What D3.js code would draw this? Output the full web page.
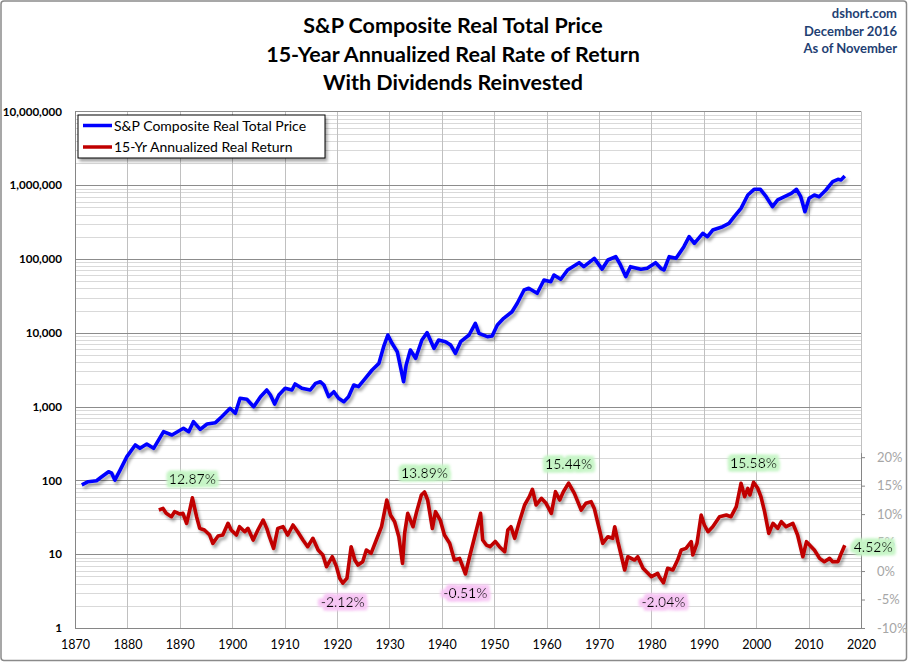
<!DOCTYPE html>
<html>
<head>
<meta charset="utf-8">
<script src="https://cdn.jsdelivr.net/npm/d3@7"></script>
<style>
  body { margin: 0; background: #fff; }
  svg { display: block; font-family: Lato, "Open Sans", sans-serif; }
</style>
</head>
<body>
<script>
// S&P Composite real total price (log scale, left axis)
const priceYears = [1871.3,1872.5,1874.1,1875.1,1876.4,1877.0,1877.6,1878.6,1879.9,1881.5,1882.4,1883.7,1885.0,1886.9,1888.5,1890.7,1891.7,1892.6,1893.9,1895.2,1896.8,1898.0,1899.6,1900.6,1901.5,1902.8,1904.1,1905.4,1906.6,1907.3,1908.1,1908.9,1910.1,1911.4,1912.0,1913.3,1914.9,1915.9,1916.8,1917.5,1918.4,1919.4,1920.3,1921.3,1922.2,1923.2,1924.1,1925.4,1926.7,1928.0,1928.9,1929.7,1930.5,1931.5,1932.1,1932.7,1933.2,1934.0,1935.0,1936.2,1937.2,1938.5,1939.4,1940.7,1941.7,1942.6,1943.6,1945.2,1946.4,1947.1,1948.7,1949.6,1950.6,1951.8,1953.4,1954.4,1955.7,1956.6,1958.2,1959.5,1960.8,1961.4,1962.7,1964.0,1966.2,1967.1,1969.1,1970.6,1971.7,1973.2,1974.1,1975.1,1976.0,1978.0,1979.2,1980.8,1981.8,1982.4,1983.4,1984.7,1986.2,1987.2,1988.2,1989.8,1990.7,1991.7,1993.6,1994.8,1995.8,1997.1,1998.4,1999.6,2000.8,2001.9,2003.1,2004.1,2005.4,2006.7,2007.7,2008.5,2009.3,2010.1,2011.1,2012.0,2013.3,2014.6,2015.6,2016.2,2016.9];
const priceValues = [87,96,99,112,131,125,101,138,210,302,272,311,272,457,412,508,457,625,492,581,606,730,948,811,1295,1256,998,1362,1679,1436,1084,1436,1770,1679,2024,1770,1679,2066,2175,1962,1362,1592,1295,1164,1362,1962,1862,2417,3133,3855,6486,9340,7200,5546,3474,2175,3660,5850,4510,7990,10040,6160,7990,7580,6830,5270,7580,9340,13440,9840,8870,9060,12760,15700,19300,25100,38000,40100,34300,51900,49300,60700,53100,71000,89100,78700,102000,73000,96900,108000,83000,57700,78700,72500,75000,89100,74800,71000,107600,102000,147000,200700,163000,222800,200700,247000,274000,304000,375000,486000,736000,880000,880000,698000,512000,631000,698000,776000,880000,698000,438000,664000,736000,698000,861000,1117000,1202000,1180000,1334000];

// 15-year annualized real return, % (right axis)
const returnYears = [1886.0,1886.8,1887.4,1888.4,1889.0,1890.0,1890.6,1891.3,1891.9,1892.4,1893.2,1893.8,1894.7,1895.7,1896.3,1897.3,1898.2,1899.2,1899.8,1900.8,1901.4,1902.4,1903.0,1904.0,1904.9,1905.9,1906.6,1907.1,1907.9,1908.7,1909.7,1910.6,1911.6,1912.5,1913.5,1914.4,1915.4,1916.4,1917.3,1918.0,1919.1,1919.9,1920.5,1921.1,1921.9,1922.7,1923.4,1924.0,1924.9,1925.6,1926.5,1927.5,1928.5,1929.5,1930.2,1931.0,1931.8,1932.5,1932.9,1933.5,1934.5,1935.2,1936.1,1936.7,1937.3,1938.2,1938.8,1939.7,1940.5,1941.5,1942.4,1943.4,1944.5,1945.3,1946.2,1947.4,1947.8,1948.5,1949.2,1950.2,1951.0,1952.0,1952.6,1953.2,1953.9,1954.8,1955.8,1956.7,1957.3,1958.0,1959.0,1959.9,1960.9,1961.7,1962.5,1963.2,1964.2,1965.3,1966.6,1967.5,1968.5,1969.1,1970.1,1970.7,1971.7,1972.6,1973.0,1973.6,1974.9,1975.5,1976.8,1977.4,1978.4,1980.0,1981.2,1981.5,1982.3,1983.1,1984.1,1985.0,1985.7,1986.6,1987.6,1987.9,1988.7,1989.5,1990.1,1990.8,1991.7,1993.0,1994.3,1995.2,1996.2,1997.1,1997.8,1998.4,1998.8,1999.5,2000.3,2000.9,2001.6,2002.4,2003.2,2004.1,2004.8,2005.7,2007.0,2007.9,2008.9,2009.6,2010.5,2011.1,2012.1,2013.0,2014.0,2014.6,2015.6,2016.1,2016.9];
const returnValues = [10.72,11.0,10.14,9.55,10.43,10.02,10.14,8.38,10.72,12.87,9.55,7.5,7.21,6.33,4.87,6.16,6.33,8.38,7.21,6.33,7.79,6.91,7.5,5.45,7.21,8.96,7.5,6.03,3.99,7.5,7.79,6.33,8.09,6.91,5.45,4.28,5.75,3.7,2.82,0.77,2.52,0.77,-1.27,-2.12,-1.27,4.28,1.94,1.06,1.65,3.7,3.12,5.45,7.79,12.48,9.84,8.67,6.03,1.36,6.62,10.14,7.79,10.43,13.36,13.89,12.48,7.5,10.43,8.96,6.33,4.87,1.94,2.23,-0.51,2.52,5.75,10.14,5.45,4.57,4.28,5.2,4.28,3.4,7.21,7.79,5.75,8.67,11.6,13.06,14.36,11.6,12.78,11.9,10.14,13.94,12.48,13.94,15.44,13.65,10.72,11.9,12.18,11.0,7.21,4.87,6.03,5.75,7.79,5.16,0.18,2.52,1.94,2.52,0.48,-0.99,-0.4,-0.99,-2.04,0.48,0.18,1.94,3.7,3.99,5.16,2.82,4.87,9.84,8.09,6.91,7.79,9.55,9.84,9.55,11.31,15.41,13.06,14.53,13.36,15.58,14.53,13.06,10.43,6.62,8.38,7.5,8.67,7.79,8.38,6.33,2.52,5.16,4.28,3.7,2.23,1.65,2.23,1.65,1.65,2.82,4.52];

// highlighted extremes of the return series
const noteLabels = ["12.87%","-2.12%","13.89%","-0.51%","15.44%","-2.04%","15.58%","4.52%"];
const noteYears  = [1892.4,1921.1,1936.7,1944.5,1964.2,1982.3,1999.5,2016.9];
const noteValues = [12.87,-2.12,13.89,-0.51,15.44,-2.04,15.58,4.52];
const noteKinds  = ["high","low","high","low","high","low","high","last"];

// axis ticks
const yearTicks = d3.range(1870, 2021, 10);
const priceTicks = [1,10,100,1000,10000,100000,1000000,10000000];
const returnTicks = [-10,-5,0,5,10,15,20];

const titleLines = ["S&P Composite Real Total Price","15-Year Annualized Real Rate of Return","With Dividends Reinvested"];
const sourceLines = ["dshort.com","December 2016","As of November"];
const seriesNames = ["S&P Composite Real Total Price","15-Yr Annualized Real Return"];

const W = 908, H = 662;
const plotLeft = 75, plotRight = 861, plotTop = 111.4, plotBottom = 628;

const svg = d3.select("body").append("svg").attr("width", W).attr("height", H);
const defs = svg.append("defs");

// soft shadow under the lines and legend
const sh = defs.append("filter").attr("id", "shadow").attr("x", "-5%").attr("y", "-5%").attr("width", "115%").attr("height", "120%");
sh.append("feDropShadow").attr("dx", 2).attr("dy", 3).attr("stdDeviation", 1.6)
  .attr("flood-color", "#000").attr("flood-opacity", 0.35);

// coloured glow behind the annotation text
function glow(id, color) {
  const f = defs.append("filter").attr("id", id).attr("x", "-20%").attr("y", "-50%").attr("width", "140%").attr("height", "200%");
  f.append("feMorphology").attr("in", "SourceAlpha").attr("operator", "dilate").attr("radius", 3).attr("result", "d");
  f.append("feGaussianBlur").attr("in", "d").attr("stdDeviation", 1.6).attr("result", "b");
  f.append("feFlood").attr("flood-color", color).attr("result", "c");
  f.append("feComposite").attr("in", "c").attr("in2", "b").attr("operator", "in").attr("result", "g");
  const m = f.append("feMerge");
  m.append("feMergeNode").attr("in", "g");
  m.append("feMergeNode").attr("in", "g");
  m.append("feMergeNode").attr("in", "SourceGraphic");
}
glow("glowGreen", "#c6f5c6");
glow("glowPink", "#f7c6f4");

// outer frame
svg.append("rect").attr("x", 1).attr("y", 1).attr("width", W - 2.5).attr("height", H - 2.5)
  .attr("rx", 3).attr("fill", "#fff").attr("stroke", "#8a8a8a").attr("stroke-width", 1.5);

const x = d3.scaleLinear().domain([1870, 2020]).range([plotLeft, plotRight]);
const y = d3.scaleLog().domain([1, 1e7]).range([plotBottom, plotTop]);
const y2 = d3.scaleLinear().domain([-10, 20]).range([plotBottom, plotBottom - 6 * 28.47]);

// minor horizontal gridlines (2..9 within each decade)
const minor = [];
for (let e = 0; e < 7; e++) for (let k = 2; k <= 9; k++) minor.push(k * Math.pow(10, e));
svg.append("g").selectAll("line").data(minor).join("line")
  .attr("x1", plotLeft).attr("x2", plotRight)
  .attr("y1", d => Math.round(y(d)) + 0.5).attr("y2", d => Math.round(y(d)) + 0.5)
  .attr("stroke", "#d9d9d9");

// vertical gridlines
svg.append("g").selectAll("line").data(yearTicks).join("line")
  .attr("x1", d => Math.round(x(d)) + 0.5).attr("x2", d => Math.round(x(d)) + 0.5)
  .attr("y1", plotTop).attr("y2", plotBottom)
  .attr("stroke", "#c0c0c0");

// major horizontal gridlines
svg.append("g").selectAll("line").data(priceTicks).join("line")
  .attr("x1", plotLeft).attr("x2", plotRight)
  .attr("y1", d => Math.round(y(d)) + 0.5).attr("y2", d => Math.round(y(d)) + 0.5)
  .attr("stroke", "#8c8c8c");

// axis lines
svg.append("line").attr("x1", plotLeft + 0.5).attr("x2", plotLeft + 0.5).attr("y1", plotTop).attr("y2", plotBottom).attr("stroke", "#868686");
svg.append("line").attr("x1", plotRight + 0.5).attr("x2", plotRight + 0.5).attr("y1", y2(20) - 4).attr("y2", plotBottom).attr("stroke", "#868686");

// left axis
const gy = svg.append("g").attr("transform", `translate(${plotLeft},0)`)
  .call(d3.axisLeft(y).tickValues(priceTicks).tickFormat(d3.format(",")).tickSize(0).tickPadding(13));
gy.select(".domain").remove();
gy.selectAll("text").attr("font-family", "Lato, sans-serif").attr("font-size", 11.6).attr("font-weight", "bold").attr("fill", "#000");

// bottom axis
const gx = svg.append("g").attr("transform", `translate(0,${plotBottom})`)
  .call(d3.axisBottom(x).tickValues(yearTicks).tickFormat(d3.format("d")).tickSize(0).tickPadding(12));
gx.select(".domain").attr("stroke", "#868686");
gx.selectAll("text").attr("font-family", "Lato, sans-serif").attr("font-size", 12.5).attr("fill", "#000");

// right axis
const gy2 = svg.append("g").attr("transform", `translate(${plotRight},0)`)
  .call(d3.axisRight(y2).tickValues(returnTicks).tickFormat(d => d + "%").tickSize(4).tickPadding(12));
gy2.select(".domain").remove();
gy2.selectAll("line").attr("stroke", "#868686");
gy2.selectAll("text").attr("font-family", "Lato, sans-serif").attr("font-size", 13).attr("fill", "#a6a6a6");

// series
const priceLine = d3.line().x((d, i) => x(priceYears[i])).y(d => y(d));
svg.append("path").datum(priceValues).attr("d", priceLine)
  .attr("fill", "none").attr("stroke", "#0000ff").attr("stroke-width", 3.6)
  .attr("stroke-linejoin", "round").attr("filter", "url(#shadow)");

const returnLine = d3.line().x((d, i) => x(returnYears[i])).y(d => y2(d));
svg.append("path").datum(returnValues).attr("d", returnLine)
  .attr("fill", "none").attr("stroke", "#c00000").attr("stroke-width", 3.6)
  .attr("stroke-linejoin", "round").attr("filter", "url(#shadow)");

// annotations
svg.append("g").selectAll("text").data(noteLabels).join("text")
  .attr("x", (d, i) => noteKinds[i] === "last" ? x(noteYears[i]) + 9 : x(noteYears[i]))
  .attr("y", (d, i) => {
    const py = y2(noteValues[i]);
    if (noteKinds[i] === "high") return py - 14;
    if (noteKinds[i] === "low") return py + 24;
    return py + 7;
  })
  .attr("text-anchor", (d, i) => noteKinds[i] === "last" ? "start" : "middle")
  .attr("font-size", 14).attr("fill", "#000")
  .attr("filter", (d, i) => noteKinds[i] === "low" ? "url(#glowPink)" : "url(#glowGreen)")
  .text(d => d);

// legend
const lg = svg.append("g").attr("transform", "translate(78,115)");
lg.append("rect").attr("width", 247).attr("height", 43).attr("fill", "#fff")
  .attr("stroke", "#000").attr("stroke-width", 1).attr("filter", "url(#shadow)");
const legendColors = ["#0000ff", "#c00000"];
seriesNames.forEach((name, i) => {
  const cy = 10.5 + i * 21.5;
  lg.append("line").attr("x1", 5).attr("x2", 34).attr("y1", cy).attr("y2", cy)
    .attr("stroke", legendColors[i]).attr("stroke-width", 3.5);
  lg.append("text").attr("x", 36).attr("y", cy + 5).attr("font-size", 14).attr("fill", "#000").text(name);
});

// title
svg.append("g").selectAll("text").data(titleLines).join("text")
  .attr("x", 453).attr("y", (d, i) => 33 + i * 28.6)
  .attr("text-anchor", "middle").attr("font-size", 21.5).attr("font-weight", "bold").attr("fill", "#000")
  .text(d => d);

// source note
svg.append("g").selectAll("text").data(sourceLines).join("text")
  .attr("x", 897).attr("y", (d, i) => 18 + i * 17.5)
  .attr("text-anchor", "end").attr("font-size", 13).attr("font-weight", "bold").attr("fill", "#1f3f73")
  .text(d => d);
</script>
</body>
</html>
